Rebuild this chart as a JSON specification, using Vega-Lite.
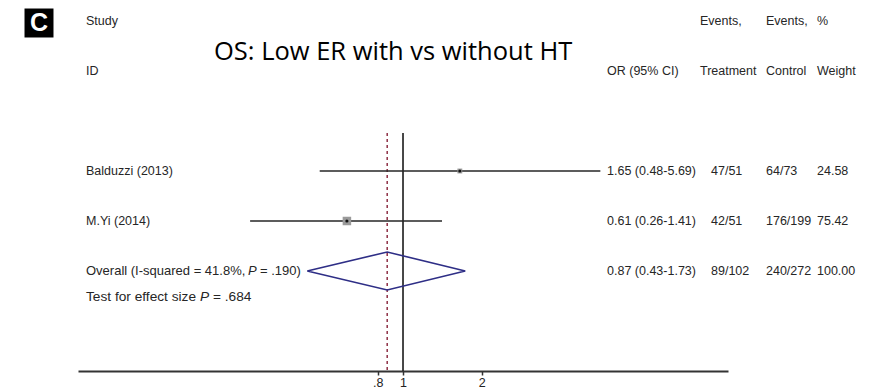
{
  "$schema": "https://vega.github.io/schema/vega-lite/v6.json",
  "width": 892,
  "height": 371,
  "autosize": "none",
  "padding": {"left": 0, "top": 0, "right": 0, "bottom": 20},
  "background": "white",
  "config": {"view": {"stroke": null}},
  "datasets": {
    "studies": [
      {"study": "Balduzzi (2013)", "or": 1.65, "lo": 0.48, "hi": 5.69, "weight": 24.58, "row": 1},
      {"study": "M.Yi (2014)", "or": 0.61, "lo": 0.26, "hi": 1.41, "weight": 75.42, "row": 2}
    ],
    "pooled": [
      {"or": 0.43, "row": 3, "k": 1},
      {"or": 0.87, "row": 2.62, "k": 2},
      {"or": 1.73, "row": 3, "k": 3},
      {"or": 0.87, "row": 3.38, "k": 4},
      {"or": 0.43, "row": 3, "k": 5}
    ],
    "refs": [
      {"or": 1, "top": 0.24, "bottom": 5, "kind": "no effect"},
      {"or": 0.87, "top": 0.24, "bottom": 5, "kind": "pooled"}
    ],
    "cells": [
      {"t": "C", "col": 0, "row": -1.96, "s": "badge"},
      {"t": "Study", "col": 1, "row": -2, "s": "plain"},
      {"t": "ID", "col": 1, "row": -1, "s": "plain"},
      {"t": "OS: Low ER with vs without HT", "col": 4, "row": -1.38, "s": "title"},
      {"t": "Events,", "col": 9, "row": -2, "s": "plain"},
      {"t": "Events,", "col": 11, "row": -2, "s": "plain"},
      {"t": "%", "col": 12, "row": -2, "s": "plain"},
      {"t": "OR (95% CI)", "col": 8, "row": -1, "s": "plain"},
      {"t": "Treatment", "col": 9, "row": -1, "s": "plain"},
      {"t": "Control", "col": 11, "row": -1, "s": "plain"},
      {"t": "Weight", "col": 12, "row": -1, "s": "plain"},
      {"t": "Balduzzi (2013)", "col": 1, "row": 1, "s": "plain"},
      {"t": "1.65 (0.48-5.69)", "col": 8, "row": 1, "s": "plain"},
      {"t": "47/51", "col": 10, "row": 1, "s": "plain"},
      {"t": "64/73", "col": 11, "row": 1, "s": "plain"},
      {"t": "24.58", "col": 12, "row": 1, "s": "plain"},
      {"t": "M.Yi (2014)", "col": 1, "row": 2, "s": "plain"},
      {"t": "0.61 (0.26-1.41)", "col": 8, "row": 2, "s": "plain"},
      {"t": "42/51", "col": 10, "row": 2, "s": "plain"},
      {"t": "176/199", "col": 11, "row": 2, "s": "plain"},
      {"t": "75.42", "col": 12, "row": 2, "s": "plain"},
      {"t": "Overall  (I-squared = 41.8%,", "col": 1, "row": 3, "s": "summary"},
      {"t": "P", "col": 5, "row": 3, "s": "summaryItalic"},
      {"t": "= .190)", "col": 7, "row": 3, "s": "summary"},
      {"t": "0.87 (0.43-1.73)", "col": 8, "row": 3, "s": "plain"},
      {"t": "89/102", "col": 10, "row": 3, "s": "plain"},
      {"t": "240/272", "col": 11, "row": 3, "s": "plain"},
      {"t": "100.00", "col": 12, "row": 3, "s": "plain"},
      {"t": "Test for effect size", "col": 1, "row": 3.52, "s": "test"},
      {"t": "P", "col": 2, "row": 3.52, "s": "testItalic"},
      {"t": "= .684", "col": 3, "row": 3.52, "s": "test"}
    ]
  },
  "resolve": {"scale": {"x": "independent"}},
  "layer": [
    {
      "layer": [
        {
          "data": {"name": "refs"},
          "transform": [{"filter": "datum.kind == 'no effect'"}],
          "mark": {"type": "rule", "color": "#1a1a1a", "strokeWidth": 1.6},
          "encoding": {
            "x": {
              "field": "or", "type": "quantitative",
              "scale": {"type": "log", "domain": [0.05707, 17.52], "range": [78, 728], "nice": false, "zero": false},
              "axis": {
                "values": [0.8, 1, 2], "format": "~g",
                "labelExpr": "replace(datum.label, '0.', '.')",
                "title": null, "grid": false,
                "domainColor": "#333", "domainWidth": 2,
                "tickColor": "#333", "tickSize": 4, "tickWidth": 1.5,
                "labelFont": "Liberation Sans", "labelFontSize": 12.5, "labelColor": "#222",
                "labelPadding": 1
              }
            },
            "y": {"field": "top", "type": "quantitative", "scale": {"domain": [-2.42, 5], "reverse": true, "nice": false, "zero": false}, "axis": null},
            "y2": {"field": "bottom"}
          }
        },
        {
          "data": {"name": "refs"},
          "transform": [{"filter": "datum.kind == 'pooled'"}],
          "mark": {"type": "rule", "color": "#8e2f45", "strokeWidth": 1.5, "strokeDash": [3, 3]},
          "encoding": {
            "x": {"field": "or", "type": "quantitative"},
            "y": {"field": "top", "type": "quantitative", "axis": null},
            "y2": {"field": "bottom"}
          }
        },
        {
          "data": {"name": "studies"},
          "mark": {"type": "rule", "color": "#262626", "strokeWidth": 1.6},
          "encoding": {
            "x": {"field": "lo", "type": "quantitative"},
            "x2": {"field": "hi"},
            "y": {"field": "row", "type": "quantitative", "axis": null}
          }
        },
        {
          "data": {"name": "studies"},
          "mark": {"type": "point", "shape": "square", "filled": true, "color": "#9a9a9a", "opacity": 1},
          "encoding": {
            "x": {"field": "or", "type": "quantitative"},
            "y": {"field": "row", "type": "quantitative", "axis": null},
            "size": {"field": "weight", "type": "quantitative", "scale": {"domain": [0, 100], "range": [0, 96]}, "legend": null}
          }
        },
        {
          "data": {"name": "studies"},
          "mark": {"type": "point", "shape": "circle", "filled": true, "color": "#111", "opacity": 1, "size": 10},
          "encoding": {
            "x": {"field": "or", "type": "quantitative"},
            "y": {"field": "row", "type": "quantitative", "axis": null}
          }
        },
        {
          "data": {"name": "pooled"},
          "mark": {"type": "line", "color": "#2e2e86", "strokeWidth": 1.6},
          "encoding": {
            "x": {"field": "or", "type": "quantitative"},
            "y": {"field": "row", "type": "quantitative", "axis": null},
            "order": {"field": "k", "type": "quantitative"}
          }
        }
      ]
    },
    {
      "data": {"name": "cells"},
      "encoding": {
        "x": {
          "field": "col", "type": "quantitative", "axis": null,
          "scale": {"domain": [0, 1, 2, 3, 4, 5, 6, 7, 8, 9, 10, 11, 12], "range": [39, 86, 200, 213, 214, 248, 252, 260, 607, 700, 711, 766, 817], "nice": false, "zero": false}
        },
        "y": {"field": "row", "type": "quantitative", "axis": null},
        "text": {"field": "t"}
      },
      "layer": [
        {
          "transform": [{"filter": "datum.s == 'badge'"}],
          "mark": {"type": "point", "shape": "square", "filled": true, "color": "#000", "opacity": 1, "size": 840}
        },
        {
          "transform": [{"filter": "datum.s == 'badge'"}],
          "mark": {"type": "text", "align": "center", "baseline": "middle", "font": "Liberation Sans", "fontWeight": "bold", "fontSize": 25, "color": "#fff"}
        },
        {
          "transform": [{"filter": "datum.s == 'title'"}],
          "mark": {"type": "text", "align": "left", "baseline": "middle", "font": "Open Sans", "fontSize": 25.5, "color": "#000"}
        },
        {
          "transform": [{"filter": "datum.s == 'plain'"}],
          "mark": {"type": "text", "align": "left", "baseline": "middle", "font": "Liberation Sans", "fontSize": 12.5, "color": "#262626"}
        },
        {
          "transform": [{"filter": "datum.s == 'summary'"}],
          "mark": {"type": "text", "align": "left", "baseline": "middle", "font": "Liberation Sans", "fontSize": 13, "color": "#262626"}
        },
        {
          "transform": [{"filter": "datum.s == 'summaryItalic'"}],
          "mark": {"type": "text", "align": "left", "baseline": "middle", "font": "Liberation Sans", "fontStyle": "italic", "fontSize": 13, "color": "#262626"}
        },
        {
          "transform": [{"filter": "datum.s == 'test'"}],
          "mark": {"type": "text", "align": "left", "baseline": "middle", "font": "Liberation Sans", "fontSize": 13.7, "color": "#262626"}
        },
        {
          "transform": [{"filter": "datum.s == 'testItalic'"}],
          "mark": {"type": "text", "align": "left", "baseline": "middle", "font": "Liberation Sans", "fontStyle": "italic", "fontSize": 13.7, "color": "#262626"}
        }
      ]
    }
  ]
}
